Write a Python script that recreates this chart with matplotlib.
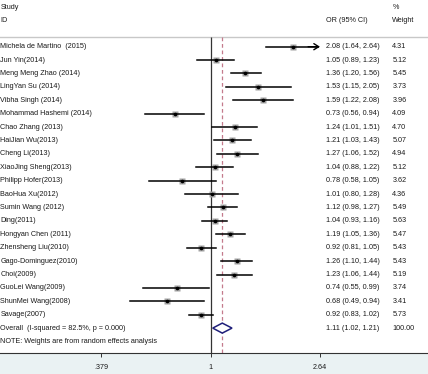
import numpy as np
import matplotlib
matplotlib.use("Agg")
import matplotlib.pyplot as plt
from matplotlib.patches import Polygon
from matplotlib.ticker import NullLocator
from matplotlib.transforms import blended_transform_factory

# ---------------- data ----------------
studies = ["Michela de Martino  (2015)", "Jun Yin(2014)", "Meng Meng Zhao (2014)",
           "LingYan Su (2014)", "Vibha Singh (2014)", "Mohammad Hashemi (2014)",
           "Chao Zhang (2013)", "HaiJian Wu(2013)", "Cheng Li(2013)",
           "XiaoJing Sheng(2013)", "Philipp Hofer(2013)", "BaoHua Xu(2012)",
           "Sumin Wang (2012)", "Ding(2011)", "Hongyan Chen (2011)",
           "Zhensheng Liu(2010)", "Gago-Dominguez(2010)", "Choi(2009)",
           "GuoLei Wang(2009)", "ShunMei Wang(2008)", "Savage(2007)"]
or_vals = [2.08, 1.05, 1.36, 1.53, 1.59, 0.73, 1.24, 1.21, 1.27, 1.04, 0.78,
           1.01, 1.12, 1.04, 1.19, 0.92, 1.26, 1.23, 0.74, 0.68, 0.92]
ci_low = [1.64, 0.89, 1.20, 1.15, 1.22, 0.56, 1.01, 1.03, 1.06, 0.88, 0.58,
          0.80, 0.98, 0.93, 1.05, 0.81, 1.10, 1.06, 0.55, 0.49, 0.83]
ci_high = [2.64, 1.23, 1.56, 2.05, 2.08, 0.94, 1.51, 1.43, 1.52, 1.22, 1.05,
           1.28, 1.27, 1.16, 1.36, 1.05, 1.44, 1.44, 0.99, 0.94, 1.02]
weights = [4.31, 5.12, 5.45, 3.73, 3.96, 4.09, 4.70, 5.07, 4.94, 5.12, 3.62,
           4.36, 5.49, 5.63, 5.47, 5.43, 5.43, 5.19, 3.74, 3.41, 5.73]
overall_label = "Overall  (I-squared = 82.5%, p = 0.000)"
overall_or, overall_lo, overall_hi, overall_w = 1.11, 1.02, 1.21, 100.00
note = "NOTE: Weights are from random effects analysis"
tick_vals = [0.379, 1, 2.64]
tick_labels = [".379", "1", "2.64"]

# ---------------- layout ----------------
W, H = 428, 374
plt.rcParams["font.family"] = ["Liberation Sans", "DejaVu Sans"]
FS = 5.2
TXT = "#1a1a1a"

fig = plt.figure(figsize=(W / 100, H / 100), dpi=100)
fig.patch.set_facecolor("#eaf2f3")
axis_px = 353
ax = fig.add_axes([0, (H - axis_px) / H, 1, axis_px / H])
ax.set_facecolor("white")
ax.set_xscale("log")
x1px, ppl = 210.5, 112.8
ax.set_xlim(np.exp(-x1px / ppl), np.exp((W - x1px) / ppl))
row0, dr = 46.7, 13.4


def prow(px):
    return (px - row0) / dr


ymax = prow(axis_px)
ax.set_ylim(ymax, prow(0))

for s in ["left", "right", "top"]:
    ax.spines[s].set_visible(False)
ax.spines["bottom"].set_color("#333333")
ax.spines["bottom"].set_linewidth(0.8)
ax.set_xticks(tick_vals)
ax.set_xticklabels(tick_labels)
ax.xaxis.set_minor_locator(NullLocator())
ax.tick_params(axis="x", length=3, width=0.7, labelsize=FS, pad=5,
               colors="#333333", labelcolor=TXT)
ax.set_yticks([])

top_row = prow(37)
ax.axhline(top_row, color="#c8c8c8", lw=1.0)
ax.vlines(1, top_row, ymax, colors="#333333", lw=0.9)
ax.vlines(overall_or, top_row, ymax, colors="#c47a8c", lw=0.9,
          linestyles=(0, (3, 2.2)))

xmax_plot = max(tick_vals)
for i in range(len(studies)):
    ms = 5.0 * np.sqrt(weights[i] / max(weights))
    ax.plot(or_vals[i], i, marker="s", ms=ms, color="#a3a3a3", mec="none", zorder=3)
    if ci_high[i] >= xmax_plot:
        ax.plot([ci_low[i], ci_high[i] * 0.985], [i, i], color="black", lw=1.1, zorder=4)
        ax.annotate("", xy=(ci_high[i], i), xytext=(ci_high[i] * 0.9, i),
                    arrowprops=dict(arrowstyle="->,head_length=0.35,head_width=0.22",
                                    color="black", lw=1.0, shrinkA=0, shrinkB=0,
                                    mutation_scale=10), zorder=4)
    else:
        ax.plot([ci_low[i], ci_high[i]], [i, i], color="black", lw=1.1, zorder=4)
    ax.plot(or_vals[i], i, marker="o", ms=1.6, color="black", zorder=5)

r = len(studies)
h = 5 / dr
diamond = Polygon([(overall_lo, r), (overall_or, r - h), (overall_hi, r), (overall_or, r + h)],
                  closed=True, facecolor="white", edgecolor="#1f1f7a", lw=1.1, zorder=5)
ax.add_patch(diamond)

tr = blended_transform_factory(ax.transAxes, ax.transData)
lx, ox, wx = 0.5 / W, 326.3 / W, 392.3 / W
kw = dict(transform=tr, fontsize=FS, color=TXT, va="center", ha="left")

ax.text(lx, prow(7.3), "Study", **kw)
ax.text(lx, prow(21), "ID", **kw)
ax.text(ox, prow(21), "OR (95% CI)", **kw)
ax.text(wx, prow(7.3), "%", **kw)
ax.text(wx, prow(21), "Weight", **kw)

for i in range(len(studies)):
    ax.text(lx, i, studies[i], **kw)
    ax.text(ox, i, f"{or_vals[i]:.2f} ({ci_low[i]:.2f}, {ci_high[i]:.2f})", **kw)
    ax.text(wx, i, f"{weights[i]:.2f}", **kw)

ax.text(lx, r, overall_label, **kw)
ax.text(ox, r, f"{overall_or:.2f} ({overall_lo:.2f}, {overall_hi:.2f})", **kw)
ax.text(wx, r, f"{overall_w:.2f}", **kw)
ax.text(lx, r + 1, note, **kw)

fig.savefig("out.png", dpi=100, facecolor=fig.get_facecolor())
